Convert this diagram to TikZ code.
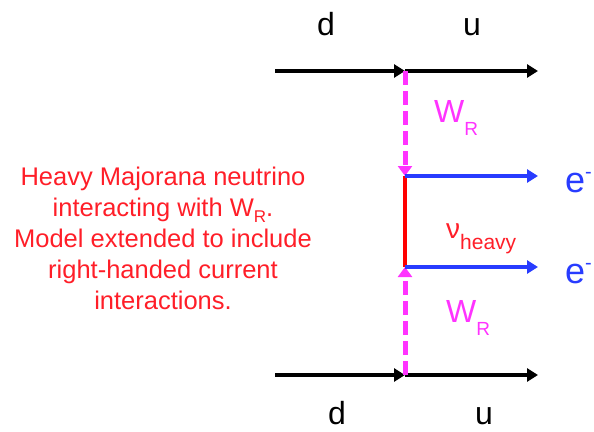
\documentclass[tikz,border=0pt]{standalone}
\usepackage{fontspec}
\setmainfont{Liberation Sans}
\usetikzlibrary{arrows.meta}
\definecolor{wcol}{RGB}{255,51,255}
\definecolor{ecol}{RGB}{40,60,255}
\definecolor{nucol}{RGB}{255,0,0}
\definecolor{txtred}{RGB}{255,30,40}
\newcommand{\subR}{\raisebox{-13pt}{\fontsize{19}{19}\selectfont R}}
\begin{document}
\begin{tikzpicture}[x=1pt,y=-1pt,
  quark/.style={line width=4.2pt,black,-{Triangle[length=11pt,width=13pt]}},
  wline/.style={line width=5pt,wcol,dash pattern=on 14pt off 6pt,-{Triangle[length=10pt,width=14pt]}},
  eline/.style={line width=3.5pt,ecol,-{Triangle[length=11pt,width=13pt]}},
  nuline/.style={line width=4.5pt,nucol},
  qlabel/.style={font=\fontsize{32}{32}\selectfont,anchor=base,inner sep=0pt},
  wlabel/.style={font=\fontsize{32}{32}\selectfont,text=wcol,anchor=base west,inner sep=0pt},
  elabel/.style={font=\fontsize{36}{36}\selectfont,text=ecol,anchor=base west,inner sep=0pt},
]
\useasboundingbox (0,0) rectangle (594,431);
\coordinate (tl) at (275,71);
\coordinate (tv) at (405,71);
\coordinate (tr) at (538,71);
\coordinate (bl) at (275,375);
\coordinate (bv) at (405,375);
\coordinate (br) at (538,375);
\coordinate (n1) at (405,176);
\coordinate (n2) at (405,267);
\coordinate (e1) at (538,176);
\coordinate (e2) at (538,267);
% quark lines
\draw[quark] (tl) -- (tv);
\draw[quark] (tv) -- (tr);
\draw[quark] (bl) -- (bv);
\draw[quark] (bv) -- (br);
% heavy neutrino
\draw[nuline] (n1) -- (n2);
% W lines
\draw[wline] (tv) -- (n1);
\draw[wline] (bv) -- (n2);
% electrons
\draw[eline] (n1) -- (e1);
\draw[eline] (n2) -- (e2);
% labels
\node[qlabel] (dtop) at (326,35) {d};
\node[qlabel] (utop) at (472,35) {u};
\node[qlabel] (dbot) at (337,424) {d};
\node[qlabel] (ubot) at (484,424) {u};
\node[wlabel] (wtop) at (434,122) {W\subR};
\node[wlabel] (wbot) at (446,322) {W\subR};
\node[elabel] (etop) at (565,192) {e\raisebox{14pt}{\fontsize{20}{20}\selectfont -}};
\node[elabel] (ebot) at (565,283) {e\raisebox{14pt}{\fontsize{20}{20}\selectfont -}};
\node[anchor=base west,inner sep=0pt,text=txtred] (nu) at (446,238)
  {\fontsize{28}{28}\selectfont ν\raisebox{-11pt}{\fontsize{21}{21}\selectfont heavy}};
\node[align=center,text=txtred,font=\fontsize{25.5}{31}\selectfont,inner sep=0pt] (desc) at (163,238)
  {Heavy Majorana neutrino\\interacting with W\raisebox{-6pt}{\fontsize{17}{17}\selectfont R}.\\Model extended to include\\right-handed current\\interactions.};
\end{tikzpicture}
\end{document}
